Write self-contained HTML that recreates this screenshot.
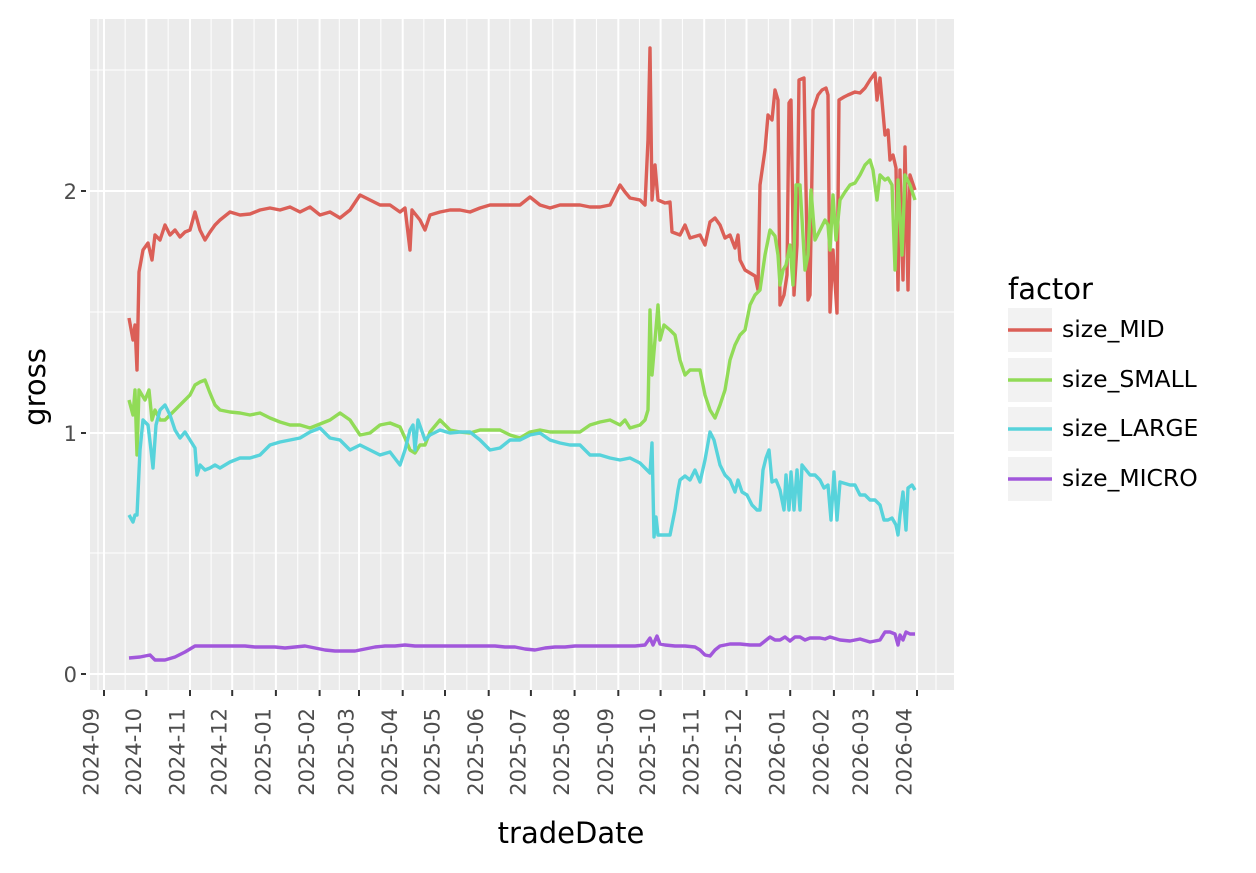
<!DOCTYPE html>
<html><head><meta charset="utf-8"><style>
body{margin:0;background:#fff}
svg text{font-family:"DejaVu Sans","Liberation Sans",sans-serif}
</style></head><body>
<svg id="s" width="1256" height="868" xmlns="http://www.w3.org/2000/svg">
<rect x="90" y="19" width="864" height="671" fill="#ebebeb"/>
<g id="grid"></g>
<g id="lines" fill="none" stroke-width="3.4" stroke-linejoin="round"></g>
<g font-size="21" fill="#4d4d4d" text-anchor="end">
<text x="77" y="682">0</text><text x="77" y="441">1</text><text x="77" y="199">2</text>
</g>
<g stroke="#333" stroke-width="2"><line x1="81" y1="674" x2="86" y2="674"/><line x1="81" y1="433" x2="86" y2="433"/><line x1="81" y1="191" x2="86" y2="191"/></g>
<g id="xt"></g>
<text x="571" y="843" font-size="29" text-anchor="middle">tradeDate</text>
<text transform="translate(45,387) rotate(-90)" font-size="29" text-anchor="middle">gross</text>
<text x="1008" y="299" font-size="29">factor</text>
<g id="leg"></g>
</svg>
<script>
const NS="http://www.w3.org/2000/svg";
function el(p,t,a,txt){const e=document.createElementNS(NS,t);for(const k in a)e.setAttribute(k,a[k]);if(txt)e.textContent=txt;p.appendChild(e);return e;}
const g=document.getElementById('grid'),xt=document.getElementById('xt');
const mx=[104,146.3,190,232.2,275.9,319.6,359,402.7,445,488.7,530.9,574.6,618.3,660.6,704.2,746.5,790.2,833.9,873.3,917];
const lab=["2024-09","2024-10","2024-11","2024-12","2025-01","2025-02","2025-03","2025-04","2025-05","2025-06","2025-07","2025-08","2025-09","2025-10","2025-11","2025-12","2026-01","2026-02","2026-03","2026-04"];
[70,312,553].forEach(y=>el(g,'line',{x1:90,x2:954,y1:y,y2:y,stroke:'#fff','stroke-width':1}));
[191,433,674].forEach(y=>el(g,'line',{x1:90,x2:954,y1:y,y2:y,stroke:'#fff','stroke-width':2}));
for(let i=0;i<mx.length-1;i++){const m=(mx[i]+mx[i+1])/2;el(g,'line',{x1:m,x2:m,y1:19,y2:690,stroke:'#fff','stroke-width':1});}
el(g,'line',{x1:98,x2:98,y1:19,y2:690,stroke:'#fff','stroke-width':1});
el(g,'line',{x1:936,x2:936,y1:19,y2:690,stroke:'#fff','stroke-width':1});
mx.forEach((x,i)=>{el(g,'line',{x1:x,x2:x,y1:19,y2:690,stroke:'#fff','stroke-width':2});
el(xt,'line',{x1:x,x2:x,y1:690,y2:696,stroke:'#333','stroke-width':2});
el(xt,'text',{transform:`translate(${x-5.5},${708}) rotate(-90)`,'font-size':21,fill:'#4d4d4d','text-anchor':'end'},lab[i]);});
const data={
'#db5f57':"129,318 133,340 135,325 137,370 139,272 143,250 148,243 152,260 155,235 160,240 165,225 170,235 175,230 180,237 185,232 190,230 195,212 200,230 205,240 210,232 215,225 220,220 230,212 240,215 250,214 260,210 270,208 280,210 290,207 300,212 310,207 320,215 330,212 340,218 350,210 360,195 370,200 380,205 390,205 400,212 405,208 410,250 412,210 420,220 425,230 430,215 440,212 450,210 460,210 470,212 480,208 490,205 500,205 510,205 520,205 530,197 540,205 550,208 560,205 570,205 580,205 590,207 600,207 610,205 620,185 625,192 630,198 640,200 645,205 648,140 650,48 652,200 655,165 658,200 665,203 670,202 672,232 680,235 685,225 690,238 700,235 705,245 710,222 715,218 720,225 725,238 730,235 735,248 738,235 740,260 745,270 750,273 755,276 758,290 760,185 765,150 768,115 772,120 775,90 778,100 780,305 784,295 787,275 789,103 791,100 794,295 797,245 799,80 804,78 808,300 810,295 813,110 818,95 822,90 826,88 828,95 830,312 833,250 837,313 839,100 844,97 848,95 855,92 860,93 865,88 870,80 875,73 877,100 880,78 885,135 888,130 890,160 893,155 896,168 898,290 900,170 903,280 905,147 908,290 910,175 915,190",
'#91db57':"129,400 133,415 135,390 137,455 139,390 145,400 149,390 152,420 155,410 160,420 165,420 170,415 175,410 180,405 185,400 190,395 195,385 200,382 205,380 210,393 215,405 220,410 230,412 240,413 250,415 260,413 270,418 280,422 290,425 300,425 310,428 320,424 330,420 340,413 350,420 360,435 370,433 380,425 390,423 400,427 405,438 410,450 415,453 420,445 425,445 430,432 440,420 450,430 460,432 470,433 480,430 490,430 500,430 510,435 520,438 530,432 540,430 550,432 560,432 570,432 580,432 590,425 600,422 610,420 620,425 625,420 630,428 640,425 645,420 648,410 650,310 652,375 655,340 658,305 660,340 664,325 670,330 675,335 680,360 685,375 690,370 695,370 700,370 705,395 710,410 715,418 720,405 725,390 730,360 735,345 740,335 745,330 750,305 755,295 760,290 765,255 770,230 775,236 778,255 780,285 783,270 786,265 790,245 793,285 796,185 800,185 805,270 808,255 811,190 815,240 820,230 825,220 828,225 830,250 833,195 836,240 840,200 845,192 850,185 855,183 860,175 865,165 870,160 873,170 877,200 880,175 885,180 888,178 892,185 895,270 898,180 902,255 905,175 910,185 915,200",
'#57d3db':"129,515 133,522 135,515 137,515 140,450 143,420 148,425 151,450 153,468 156,425 160,410 165,405 170,415 175,430 180,438 185,432 190,440 195,448 197,475 200,465 205,470 210,468 215,465 220,468 230,462 240,458 250,458 260,455 270,445 280,442 290,440 300,438 310,432 320,428 330,438 340,440 350,450 360,445 370,450 380,455 390,452 400,465 405,450 410,430 413,425 415,450 418,420 425,440 430,435 440,430 450,433 460,432 470,432 480,440 490,450 500,448 510,440 520,440 530,435 540,433 550,440 560,443 570,445 580,445 590,455 600,455 610,458 620,460 630,458 640,463 645,468 650,473 652,443 654,537 656,517 658,535 665,535 670,535 675,510 678,490 680,480 685,476 690,480 695,470 700,482 705,460 710,432 714,440 720,465 725,475 730,480 735,492 738,480 742,492 747,495 752,505 757,510 760,510 763,470 766,458 769,450 772,482 776,480 780,490 784,510 786,475 789,510 791,472 794,510 797,470 800,510 802,465 806,470 810,475 815,475 820,480 824,488 828,485 831,520 834,472 837,520 840,482 850,485 855,485 860,495 865,495 870,500 875,500 880,505 884,520 888,520 892,518 896,525 898,535 900,515 903,492 906,530 908,488 912,485 915,490",
'#a157db':"129,658 140,657 150,655 155,660 165,660 175,657 185,652 195,646 205,646 215,646 225,646 235,646 245,646 255,647 265,647 275,647 285,648 295,647 305,646 315,648 325,650 335,651 345,651 355,651 365,649 375,647 385,646 395,646 405,645 415,646 425,646 435,646 445,646 455,646 465,646 475,646 485,646 495,646 505,647 515,647 525,649 535,650 545,648 555,647 565,647 575,646 585,646 595,646 605,646 615,646 625,646 635,646 645,645 650,638 653,645 657,636 660,644 665,645 675,646 685,646 695,647 700,650 705,655 710,656 715,650 720,646 730,644 740,644 750,645 760,645 765,641 770,637 775,640 780,640 785,637 790,641 795,637 800,637 805,640 810,638 820,638 825,639 830,637 840,640 850,641 860,639 870,642 880,640 885,632 890,632 895,634 898,645 900,635 903,640 906,632 910,634 915,634"};
const L=document.getElementById('lines');
for(const c in data)el(L,'polyline',{points:data[c],stroke:c});
const lg=document.getElementById('leg');const names=["size_MID","size_SMALL","size_LARGE","size_MICRO"];const cs=Object.keys(data);
[308,358,407,457].forEach((y,i)=>{el(lg,'rect',{x:1008,y:y,width:44,height:44,fill:'#f2f2f2'});
el(lg,'line',{x1:1008,x2:1052,y1:y+22,y2:y+22,stroke:cs[i],'stroke-width':3.5});
el(lg,'text',{x:1062,y:y+29,'font-size':23.5},names[i]);});
</script>
</body></html>
